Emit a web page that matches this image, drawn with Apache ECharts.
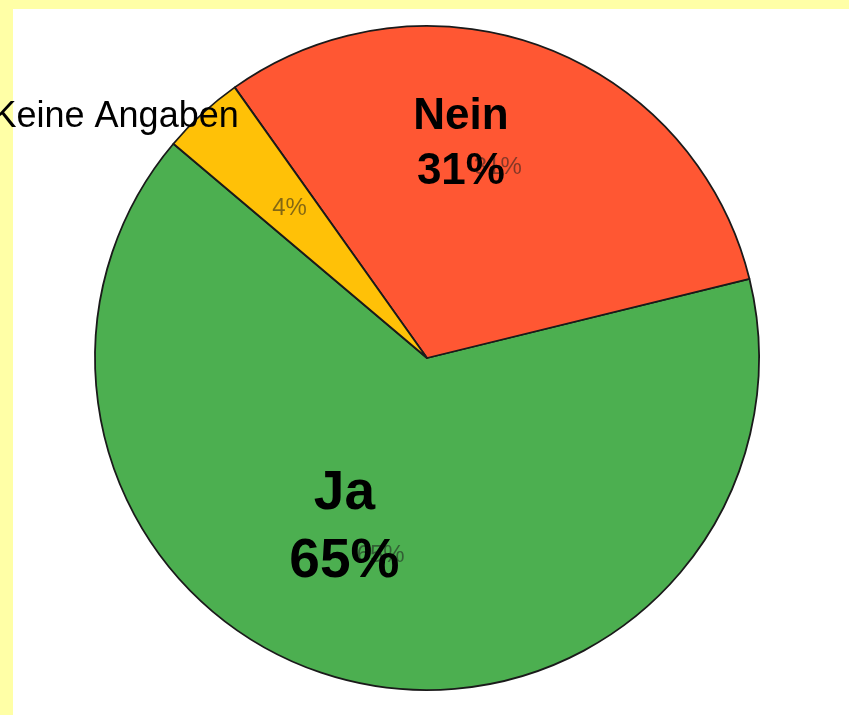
<!DOCTYPE html>
<html>
<head>
<meta charset="utf-8">
<script src="https://cdn.jsdelivr.net/npm/echarts@6/dist/echarts.min.js"></script>
<style>
  html, body { margin: 0; padding: 0; background: #FFFFA6; }
  #chart { width: 849px; height: 715px; }
</style>
</head>
<body>
<div id="chart"></div>
<script>
// ---- data ----
const categories = ['Ja', 'Nein', 'Keine Angaben'];
const values = [65, 31, 4];
const colors = ['#4CAF50', '#FF5733', '#FFC107'];

// ---- big label styling (per category) ----
const bigLabelStyle = {
  'Ja':            { fontSize: 55, lineHeight: 68, fontWeight: 'bold', offset: [-44, 5],   showPct: true },
  'Nein':          { fontSize: 44, lineHeight: 55, fontWeight: 'bold', offset: [-25, -55], showPct: true },
  'Keine Angaben': { fontSize: 36, lineHeight: 40, fontWeight: 'normal', offset: [-197, -117], showPct: false }
};

const chart = echarts.init(document.getElementById('chart'), null, { renderer: 'canvas' });

const center = [427, 358];
const startAngle = 139.8;

const mainData = categories.map((c, i) => ({
  name: c, value: values[i], itemStyle: { color: colors[i] }
}));

const transparentData = categories.map((c, i) => ({
  name: c, value: values[i]
}));

const bigData = categories.map((c, i) => {
  const s = bigLabelStyle[c];
  return {
    name: c,
    value: values[i],
    label: {
      fontSize: s.fontSize,
      lineHeight: s.lineHeight,
      fontWeight: s.fontWeight,
      offset: s.offset,
      formatter: s.showPct ? '{b}\n{c}%' : '{b}'
    }
  };
});

const option = {
  backgroundColor: '#FFFFA6',
  animation: false,
  graphic: [{
    type: 'rect',
    z: -10,
    silent: true,
    shape: { x: 13, y: 9, width: 849, height: 715 },
    style: { fill: '#ffffff' }
  }],
  series: [
    {
      type: 'pie',
      center: center,
      radius: 332,
      startAngle: startAngle,
      clockwise: false,
      silent: true,
      label: { show: false },
      labelLine: { show: false },
      itemStyle: { borderColor: '#1a1a1a', borderWidth: 1.8 },
      data: mainData,
      z: 2
    },
    {
      type: 'pie',
      center: center,
      radius: 400,
      startAngle: startAngle,
      clockwise: false,
      silent: true,
      avoidLabelOverlap: false,
      labelLayout: { hideOverlap: false },
      itemStyle: { color: 'rgba(0,0,0,0)', borderWidth: 0 },
      label: {
        show: true,
        position: 'inside',
        formatter: '{c}%',
        fontFamily: 'Liberation Sans, Arial, sans-serif',
        fontSize: 24,
        color: 'rgba(30,30,30,0.55)'
      },
      labelLine: { show: false },
      emphasis: { disabled: true },
      data: transparentData,
      z: 3
    },
    {
      type: 'pie',
      center: center,
      radius: 332,
      startAngle: startAngle,
      clockwise: false,
      silent: true,
      avoidLabelOverlap: false,
      labelLayout: { hideOverlap: false },
      itemStyle: { color: 'rgba(0,0,0,0)', borderWidth: 0 },
      label: {
        show: true,
        position: 'inside',
        fontFamily: 'Liberation Sans, Arial, sans-serif',
        color: '#000000',
        overflow: 'none'
      },
      labelLine: { show: false },
      emphasis: { disabled: true },
      data: bigData,
      z: 4
    }
  ]
};

chart.setOption(option);
</script>
</body>
</html>
